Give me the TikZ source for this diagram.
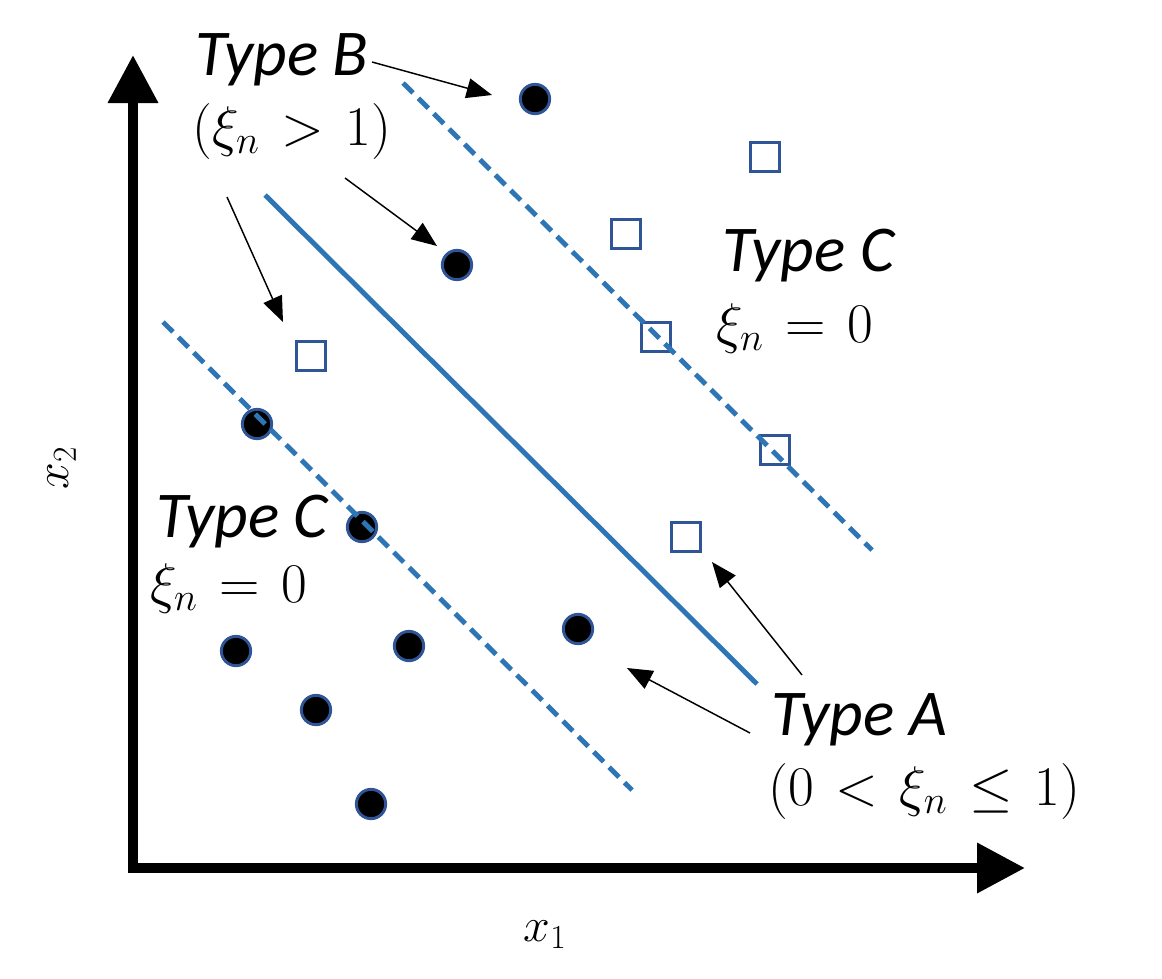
\RequirePackage{fix-cm}
\documentclass[tikz,border=0pt]{standalone}
\usepackage{fontspec}
\usepackage{graphicx}
\newfontfamily\labfont{Carlito}
\newcommand\widerelspace{\thickmuskip=7mu\relax}
\usetikzlibrary{arrows.meta}
\definecolor{lineblue}{RGB}{46,117,182}
\definecolor{markblue}{RGB}{47,85,151}
\tikzset{
  axis/.style={line width=7.5pt, line join=miter,
    {Triangle[length=36pt,width=36pt]}-{Triangle[length=36pt,width=36pt]}},
  margin/.style={draw=lineblue, line width=3.7pt, dash pattern=on 10.5pt off 5.8pt},
  boundary/.style={draw=lineblue, line width=3.7pt},
  dot/.style={circle, fill=black, draw=markblue, line width=2.2pt, minimum size=22pt, inner sep=0pt},
  sq/.style={rectangle, fill=white, draw=markblue, line width=2.2pt, minimum size=22pt, inner sep=0pt},
  pointer/.style={line width=1.1pt, -{Triangle[length=19pt,width=15pt]}},
  typelab/.style={anchor=base west, inner sep=0pt, font=\labfont\itshape\fontsize{49}{54}\selectfont},
  mathlab/.style={anchor=base west, inner sep=0pt, font=\fontsize{42}{48}\selectfont\widerelspace},
  axlab/.style={inner sep=0pt, font=\fontsize{36}{40}\selectfont}
}
\begin{document}
\begin{tikzpicture}[x=0.75pt,y=-0.75pt]
\useasboundingbox (0,0) rectangle (1162,978);
% axes
\coordinate (ytip) at (133,55);
\coordinate (origin) at (133,868);
\coordinate (xtip) at (1025,868);
\draw[axis] (ytip) -- (origin) -- (xtip);
\node[axlab] (x1) at (545,935) {$x_1$};
\node[axlab, rotate=90] (x2) at (62,468) {$x_2$};
% boundary
\coordinate (mu1) at (403,83);  \coordinate (mu2) at (872,550);
\coordinate (b1) at (265,195);  \coordinate (b2) at (757,684);
\coordinate (ml1) at (163,322); \coordinate (ml2) at (632,790);
\draw[boundary] (b1) -- (b2);
% class 1 points
\node[dot] (p1) at (535,99) {};
\node[dot] (p2) at (457,265) {};
\node[dot] (p3) at (257,424) {};
\node[dot] (p4) at (362,527) {};
\node[dot] (p5) at (578,629) {};
\node[dot] (p6) at (409,646) {};
\node[dot] (p7) at (236,651) {};
\node[dot] (p8) at (316,710) {};
\node[dot] (p9) at (371,804) {};
% class 2 points
\node[sq] (s1) at (765,157) {};
\node[sq] (s2) at (626,234) {};
\node[sq] (s3) at (656,337) {};
\node[sq] (s4) at (311,356) {};
\node[sq] (s5) at (775,450) {};
\node[sq] (s6) at (686,537) {};
% margins drawn over the points
\draw[margin] (mu1) -- (mu2);
\draw[margin] (ml1) -- (ml2);
% labels
\node[typelab] (tB) at (195,75) {Type B};
\node[mathlab] (tBm) at (192,145) {$(\xi_n > 1)$};
\node[typelab] (tCr) at (722,271) {Type C};
\node[mathlab] (tCrm) at (716,342) {$\xi_n = 0$};
\node[typelab] (tCl) at (156,537) {Type C};
\node[mathlab] (tClm) at (150,602) {$\xi_n = 0$};
\node[typelab] (tA) at (771,735) {Type A};
\node[mathlab] (tAm) at (768,805) {$(0 < \xi_n \leq 1)$};
% pointers
\coordinate (aB1s) at (372,62);  \coordinate (aB1e) at (492,95);
\coordinate (aB2s) at (345,178); \coordinate (aB2e) at (437,246);
\coordinate (aB3s) at (227,197); \coordinate (aB3e) at (283,322);
\coordinate (aA1s) at (802,675); \coordinate (aA1e) at (712,562);
\coordinate (aA2s) at (750,733); \coordinate (aA2e) at (627,668);
\draw[pointer] (aB1s) -- (aB1e);
\draw[pointer] (aB2s) -- (aB2e);
\draw[pointer] (aB3s) -- (aB3e);
\draw[pointer] (aA1s) -- (aA1e);
\draw[pointer] (aA2s) -- (aA2e);
\end{tikzpicture}
\end{document}
